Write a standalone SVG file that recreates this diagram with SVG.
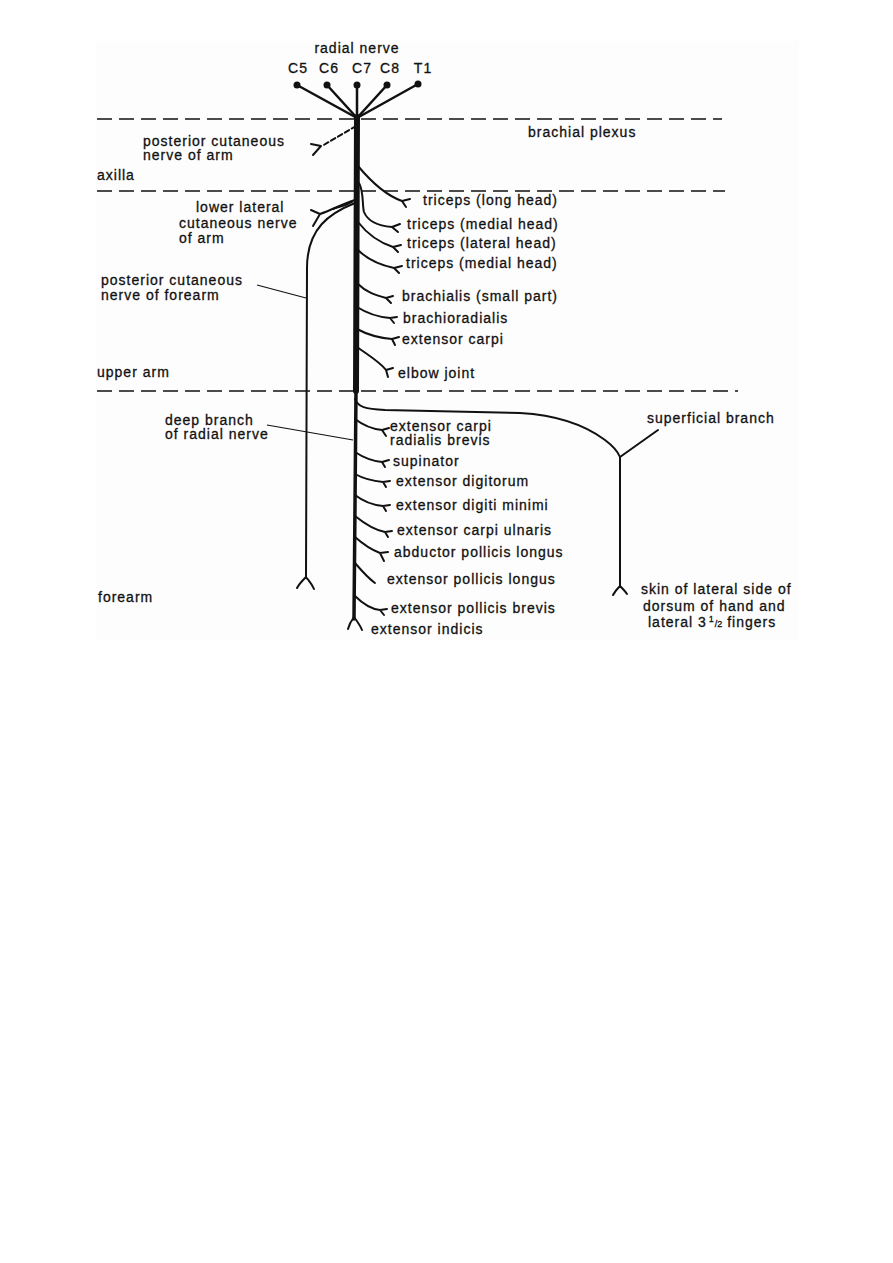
<svg xmlns="http://www.w3.org/2000/svg" width="893" height="1263" viewBox="0 0 893 1263">
<style>
text{font-family:"Liberation Sans",Arial,sans-serif;font-size:14px;letter-spacing:1px;fill:#111;stroke:#111;stroke-width:0.3}
.c{text-anchor:middle}
.dash{stroke:#111;stroke-width:1.6;stroke-dasharray:15 7;fill:none}
.br{stroke:#111;stroke-width:2;fill:none;stroke-linecap:round;stroke-linejoin:round}
.thick{stroke:#111;fill:none;stroke-linecap:round}
.lead{stroke:#111;stroke-width:1.2;fill:none}
</style>
<rect x="0" y="0" width="893" height="1263" fill="#fff"/>
<rect x="96" y="41" width="703" height="599" fill="#fdfdfd"/>

<g id="zones">
<line class="dash" x1="97" y1="119" x2="722" y2="119"/>
<line class="dash" x1="97" y1="191" x2="725" y2="191"/>
<line class="dash" x1="97" y1="391" x2="738" y2="391"/>
<text x="528" y="137">brachial plexus</text>
<text x="97" y="180">axilla</text>
<text x="97" y="377">upper arm</text>
<text x="98" y="602">forearm</text>
</g>

<g id="roots">
<text class="c" x="357" y="53">radial nerve</text>
<text class="c" x="298" y="73">C5</text>
<text class="c" x="329" y="73">C6</text>
<text class="c" x="362" y="73">C7</text>
<text class="c" x="390" y="73">C8</text>
<text class="c" x="423" y="73">T1</text>
<g stroke="#111" stroke-width="2.5" stroke-linecap="round">
<line x1="297" y1="85" x2="357" y2="118"/>
<line x1="327" y1="85" x2="357" y2="118"/>
<line x1="357" y1="85" x2="357" y2="118"/>
<line x1="387" y1="85" x2="357" y2="118"/>
<line x1="418" y1="84" x2="357" y2="118"/>
</g>
<g fill="#111">
<circle cx="297" cy="85" r="3.5"/>
<circle cx="327" cy="85" r="3.5"/>
<circle cx="357" cy="85" r="3.5"/>
<circle cx="387" cy="85" r="3.5"/>
<circle cx="418" cy="84" r="3.5"/>
</g>
</g>

<g id="connectors">
<!-- main trunk -->
<path class="thick" stroke-width="6" d="M357,117 L356,391"/>
<path class="thick" stroke-width="3.5" d="M356,391 L354,619"/>
<!-- extensor indicis terminal fork -->
<path class="br" stroke-width="2.5" d="M354,617 C351,621 349,625 348,629 M354,617 C357,621 360,625 362,630"/>

<!-- posterior cutaneous nerve of arm (dashed) -->
<path class="br" stroke-width="1.6" stroke-dasharray="5 3" d="M356,126 L322,146"/>
<path class="br" stroke-width="1.8" d="M311,144 L321,146 L313,155"/>

<!-- lower lateral cutaneous nerve of arm -->
<path class="br" d="M355,200 C342,204 332,210 320,214 L311,210 M320,214 L313,226"/>
<path class="br" stroke-width="1.5" d="M352,202 C345,206 338,207 333,209"/>

<!-- posterior cutaneous nerve of forearm -->
<path class="br" stroke-width="3" d="M355,203 C330,213 307,228 307,268 L306,578"/>
<path class="br" stroke-width="2.5" d="M306,577 C302,581 299,584 297,588 M306,577 C309,581 312,584 314,589"/>
<line class="lead" x1="257" y1="285" x2="306" y2="298"/>

<!-- upper arm muscular branches -->
<path class="br" d="M358,166 C368,178 385,195 402,201 L410,199 M402,201 L406,207"/>
<path class="br" d="M359,183 C364,192 362,205 364,212 C368,222 380,226 392,227 L400,224 M392,227 L398,232"/>
<path class="br" d="M358,222 C368,235 378,242 393,247 L401,245 M393,247 L398,252"/>
<path class="br" d="M358,250 C368,260 380,265 394,268 L402,266 M394,268 L399,273"/>
<path class="br" d="M358,284 C366,292 375,295 386,298 L393,296 M386,298 L391,303"/>
<path class="br" d="M357,307 C368,314 378,317 390,318 L397,317 M390,318 L394,323"/>
<path class="br" d="M357,329 C368,335 380,338 392,339 L399,337 M392,339 L395,345"/>
<path class="br" d="M357,347 C368,355 380,362 386,370 L393,368 M386,370 L388,377"/>

<!-- superficial branch -->
<path class="br" stroke-width="2.5" d="M355,399 C358,407 365,409 385,410 L520,413 C555,415 585,425 605,440 C613,446 618,452 620,457 L620,587"/>
<path class="br" d="M620,457 L658,430"/>
<path class="br" stroke-width="2.5" d="M620,586 C617,589 615,591 613,595 M620,586 C623,589 625,591 627,594"/>

<!-- deep branch leader -->
<line class="lead" x1="267" y1="425" x2="353" y2="440"/>

<!-- forearm muscular branches -->
<path class="br" d="M355,419 C364,426 372,429 382,430 L389,428 M382,430 L386,436"/>
<path class="br" d="M355,452 C364,458 372,461 382,462 L389,460 M382,462 L385,467"/>
<path class="br" d="M355,474 C364,479 372,481 383,482 L390,481 M383,482 L386,487"/>
<path class="br" d="M355,495 C364,502 372,505 383,506 L390,505 M383,506 L386,511"/>
<path class="br" d="M355,516 C365,524 374,530 385,532 L392,531 M385,532 L388,537"/>
<path class="br" d="M355,537 C364,545 372,550 380,553 L388,552 M380,553 L384,561"/>
<path class="br" d="M355,563 C361,570 368,578 375,583"/>
<path class="br" d="M355,596 C363,604 371,609 380,610 L387,609 M380,610 L384,615"/>
</g>

<g id="labels-left">
<text x="143" y="146">posterior cutaneous</text>
<text x="143" y="160">nerve of arm</text>
<text x="196" y="212">lower lateral</text>
<text x="179" y="228">cutaneous nerve</text>
<text x="179" y="243">of arm</text>
<text x="101" y="285">posterior cutaneous</text>
<text x="101" y="300">nerve of forearm</text>
<text x="165" y="425">deep branch</text>
<text x="165" y="439">of radial nerve</text>
</g>

<g id="labels-upper-arm">
<text x="423" y="205">triceps (long head)</text>
<text x="407" y="229">triceps (medial head)</text>
<text x="407" y="248">triceps (lateral head)</text>
<text x="406" y="268">triceps (medial head)</text>
<text x="402" y="301">brachialis (small part)</text>
<text x="403" y="323">brachioradialis</text>
<text x="402" y="344">extensor carpi</text>
<text x="398" y="378">elbow joint</text>
</g>

<g id="labels-forearm">
<text x="390" y="431">extensor carpi</text>
<text x="390" y="445">radialis brevis</text>
<text x="393" y="466">supinator</text>
<text x="396" y="486">extensor digitorum</text>
<text x="396" y="510">extensor digiti minimi</text>
<text x="397" y="535">extensor carpi ulnaris</text>
<text x="394" y="557">abductor pollicis longus</text>
<text x="387" y="584">extensor pollicis longus</text>
<text x="391" y="613">extensor pollicis brevis</text>
<text x="371" y="634">extensor indicis</text>
</g>

<g id="labels-superficial">
<text x="647" y="423">superficial branch</text>
<text x="641" y="594">skin of lateral side of</text>
<text x="643" y="611">dorsum of hand and</text>
<text x="648" y="627">lateral 3<tspan font-size="9" dy="-5" dx="2">1</tspan><tspan font-size="9" dy="5" letter-spacing="0">/2</tspan> fingers</text>
</g>
</svg>
